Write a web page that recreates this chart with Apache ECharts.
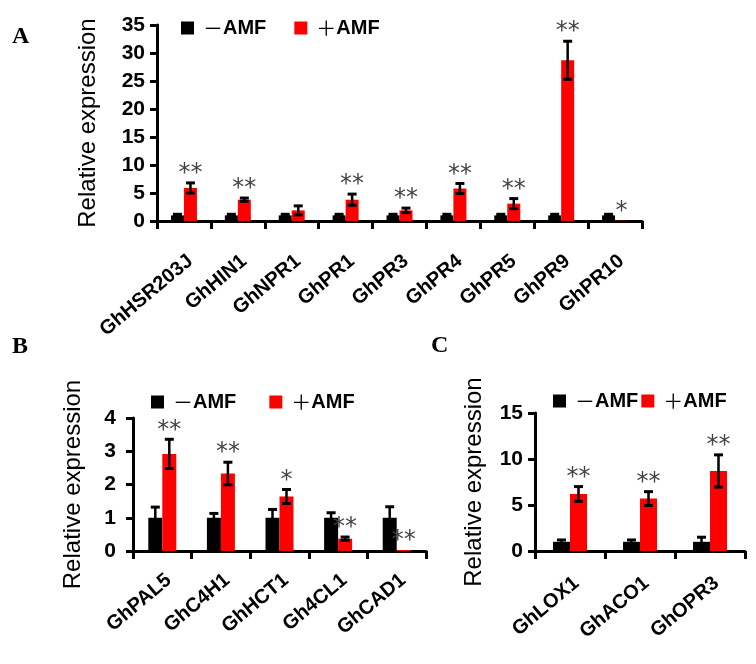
<!DOCTYPE html>
<html>
<head>
<meta charset="utf-8">
<script src="https://cdn.jsdelivr.net/npm/echarts/dist/echarts.min.js"></script>
<style>
html,body{margin:0;padding:0;background:#fff;}
#c{width:756px;height:664px;}
</style>
</head>
<body>
<div id="c"></div>
<script>
// ---- Panel A ----
const catsA = ['GhHSR203J','GhHIN1','GhNPR1','GhPR1','GhPR3','GhPR4','GhPR5','GhPR9','GhPR10'];
const ctrlA = [1,1,1,1,1,1,1,1,1];
const ctrlErrA = [0.2,0.2,0.2,0.2,0.2,0.2,0.2,0.2,0.2];
const amfA = [5.9,3.8,1.9,3.8,1.9,5.8,3.1,28.7,0.05];
const amfErrA = [0.9,0.3,0.8,1.0,0.4,0.9,0.9,3.4,0];
const sigA = ['**','**','','**','**','**','**','**','*'];
const ticksA = {min:0, max:35, interval:5};

// ---- Panel B ----
const catsB = ['GhPAL5','GhC4H1','GhHCT1','Gh4CL1','GhCAD1'];
const ctrlB = [1,1,1,1,1];
const ctrlErrB = [0.32,0.13,0.25,0.15,0.33];
const amfB = [2.92,2.33,1.64,0.37,0.03];
const amfErrB = [0.44,0.34,0.21,0.05,0];
const sigB = ['**','**','*','**','**'];
const ticksB = {min:0, max:4, interval:1};

// ---- Panel C ----
const catsC = ['GhLOX1','GhACO1','GhOPR3'];
const ctrlC = [1,1,1];
const ctrlErrC = [0.2,0.2,0.5];
const amfC = [6.2,5.7,8.7];
const amfErrC = [0.8,0.75,1.75];
const sigC = ['**','**','**'];
const ticksC = {min:0, max:15, interval:5};

const seriesNames = ['\u2212AMF', '+AMF'];
const yName = 'Relative expression';

const FONT = 'Liberation Sans, Arial, sans-serif';
const chart = echarts.init(document.getElementById('c'), null, {renderer:'canvas'});

function xAxis(gi, cats, margin){
  return {type:'category', gridIndex:gi, data:cats,
    axisLine:{lineStyle:{color:'#000', width:3}},
    axisTick:{show:true, length:8, lineStyle:{color:'#000', width:3}},
    axisLabel:{rotate:40, margin:margin, interval:0, verticalAlign:'top', fontSize:20, fontWeight:'bold', fontFamily:FONT, color:'#000'},
    splitLine:{show:false}};
}
function yAxis(gi, t, gap, lm){
  return {type:'value', gridIndex:gi, min:t.min, max:t.max, interval:t.interval,
    name:yName, nameLocation:'middle', nameRotate:90, nameGap:gap,
    nameTextStyle:{fontSize:24, fontFamily:FONT, color:'#000'},
    axisLine:{show:true, lineStyle:{color:'#000', width:3}},
    axisTick:{show:true, length:7, lineStyle:{color:'#000', width:3}},
    axisLabel:{margin:lm, fontSize:21, fontWeight:'bold', fontFamily:FONT, color:'#000'},
    splitLine:{show:false}};
}
function bars(gi, ctrl, amf, bw){
  return [
    {name:seriesNames[0], type:'bar', xAxisIndex:gi, yAxisIndex:gi, data:ctrl, barWidth:bw, barGap:'0%', itemStyle:{color:'#000'}},
    {name:seriesNames[1], type:'bar', xAxisIndex:gi, yAxisIndex:gi, data:amf, barWidth:bw, barGap:'0%', itemStyle:{color:'#ff0000'}}
  ];
}
function errSeries(gi, vals, errs, sig, side, bw){
  return {type:'custom', xAxisIndex:gi, yAxisIndex:gi, z:5, silent:true,
    data: vals.map((v,i)=>[i, v, errs[i]]),
    renderItem: function(params, api){
      const i = api.value(0), m = api.value(1), e = api.value(2);
      const c = api.coord([i, m]);
      const x = c[0] + side*bw/2;
      const top = api.coord([i, m+e])[1];
      const bot = api.coord([i, m-e])[1];
      const cw = 9;
      const children = [];
      if (e > 0) {
        children.push({type:'line', shape:{x1:x, y1:top, x2:x, y2:bot}, style:{stroke:'#000', lineWidth:2.5}});
        children.push({type:'line', shape:{x1:x-cw/2, y1:top, x2:x+cw/2, y2:top}, style:{stroke:'#000', lineWidth:3}});
        children.push({type:'line', shape:{x1:x-cw/2, y1:bot, x2:x+cw/2, y2:bot}, style:{stroke:'#000', lineWidth:3}});
      }
      const s = sig ? sig[params.dataIndex] : '';
      if (s) {
        children.push({type:'text', style:{text:s, x:x, y:top-9, align:'center', verticalAlign:'middle',
          fill:'#444', font:'24px "DejaVu Sans"'}});
      }
      return {type:'group', children:children};
    }
  };
}
function legend(left, top, gap){
  return {left:left, top:top, itemWidth:13, itemHeight:13, icon:'rect', itemGap:gap,
    data:seriesNames, selectedMode:false,
    formatter: function(n){ return n === seriesNames[0] ? '{s|\uFF0D}{b|AMF}' : '{s|\uFF0B}{b|AMF}'; },
    textStyle:{color:'#000', rich:{
      s:{fontFamily:'Noto Sans CJK SC', fontSize:20, fontWeight:'normal', color:'#000', padding:[0,0,0,4]},
      b:{fontFamily:FONT, fontSize:20, fontWeight:'bold', color:'#000'}
    }}};
}

const option = {
  backgroundColor:'#fff',
  animation:false,
  grid:[
    {left:157, top:25, width:485, height:196},
    {left:133, top:418, width:293, height:133},
    {left:535, top:413, width:210, height:138}
  ],
  legend:[legend(176, 13, 28), legend(146, 387, 33), legend(548, 386, 3)],
  xAxis:[xAxis(0,catsA,30), xAxis(1,catsB,19), xAxis(2,catsC,22)],
  yAxis:[yAxis(0,ticksA,57,12), yAxis(1,ticksB,48,17), yAxis(2,ticksC,49,12)],
  graphic:[
    {type:'text', left:12, top:25, style:{text:'A', font:'bold 24px "Liberation Serif"', fill:'#000'}},
    {type:'text', left:12, top:335, style:{text:'B', font:'bold 24px "Liberation Serif"', fill:'#000'}},
    {type:'text', left:431, top:334, style:{text:'C', font:'bold 24px "Liberation Serif"', fill:'#000'}}
  ],
  series:[].concat(
    bars(0, ctrlA, amfA, 13),
    bars(1, ctrlB, amfB, 14),
    bars(2, ctrlC, amfC, 17),
    [errSeries(0, ctrlA, ctrlErrA, null, -1, 13), errSeries(0, amfA, amfErrA, sigA, 1, 13),
     errSeries(1, ctrlB, ctrlErrB, null, -1, 14), errSeries(1, amfB, amfErrB, sigB, 1, 14),
     errSeries(2, ctrlC, ctrlErrC, null, -1, 17), errSeries(2, amfC, amfErrC, sigC, 1, 17)]
  )
};
chart.setOption(option);
</script>
</body>
</html>
